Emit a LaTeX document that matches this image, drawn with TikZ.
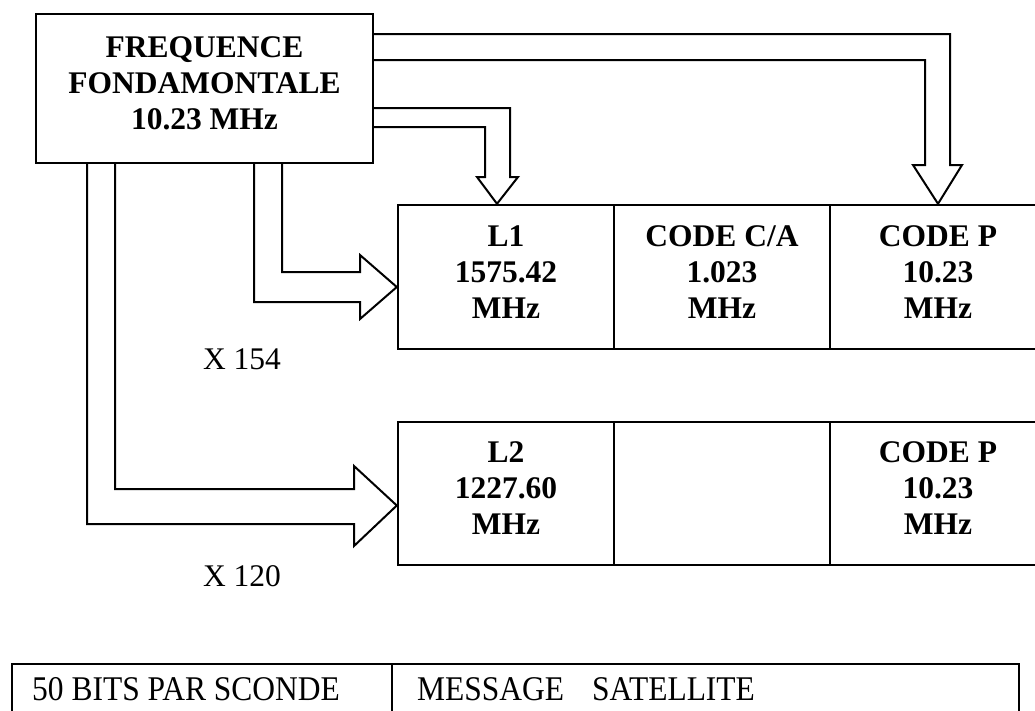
\documentclass[tikz,border=0pt]{standalone}
\usepackage{fontspec}
\usepackage{graphicx}
\setmainfont{Liberation Serif}
\newcommand\dpx[1]{\rule[-#1]{0pt}{0pt}}
\begin{document}
\begin{tikzpicture}[x=1pt,y=-1pt,
  box/.style={draw, line width=2.4pt, inner sep=0pt, align=center,
    font=\bfseries\fontsize{31.5}{36}\selectfont},
  cell/.style={box, minimum width=216pt, minimum height=144pt},
  blk/.style={draw, line width=2pt, line join=miter},
  lbl/.style={inner sep=0pt, font=\fontsize{31.5}{36}\selectfont},
  msg/.style={draw, line width=2.4pt, inner sep=0pt, minimum height=100pt}]
\useasboundingbox (0,0) rectangle (1035,710);

% source box
\node[box, minimum width=337pt, minimum height=149pt] (fq) at (204.5,88.5)
  {FREQUENCE\\FONDAMONTALE\\10.23 MHz\dpx{10pt}};

% L1 row
\node[cell] (l1) at (506,277) {L1\\1575.42\\MHz\dpx{10pt}};
\node[cell] (ca) at (722,277) {CODE C/A\\1.023\\MHz\dpx{10pt}};
\node[cell] (p1) at (938,277) {CODE P\\10.23\\MHz\dpx{10pt}};

% L2 row
\node[cell, minimum height=143pt] (l2) at (506,493.5) {L2\\1227.60\\MHz\dpx{10pt}};
\node[cell, minimum height=143pt] (e2) at (722,493.5) {};
\node[cell, minimum height=143pt] (p2) at (938,493.5) {CODE P\\10.23\\MHz\dpx{10pt}};

% multiplier labels
\node[lbl] (x154) at (242,359) {X 154};
\node[lbl] (x120) at (242,576) {X 120};

% hollow arrows
\draw[blk] (fq.east |- 0,34) -| (950,165) -- (962,165) -- (p1.north)
  -- (913,165) -- (925,165) |- (fq.east |- 0,60);
\draw[blk] (fq.east |- 0,108) -| (510,177) -- (518,177) -- ([xshift=-9pt]l1.north)
  -- (477,177) -- (485,177) |- (fq.east |- 0,127);
\draw[blk] (fq.south -| 254,0) |- (360,302) -- (360,319) -- ([yshift=-10pt]l1.west)
  -- (360,255) -- (360,272) -| (fq.south -| 282,0);
\draw[blk] (fq.south -| 87,0) |- (354,524) -- (354,546) -- ([yshift=-12pt]l2.west)
  -- (354,466) -- (354,489) -| (fq.south -| 115,0);

% message row
\node[msg, minimum width=380pt] (b1) at (202,714) {};
\node[msg, minimum width=627pt] (b2) at (705.5,714) {};
\node[lbl, anchor=base west] (t50) at (32,700) {\scalebox{1}[1.1]{50 BITS PAR SCONDE}};
\node[lbl, anchor=base west] (tmsg) at (417,700) {\scalebox{1}[1.1]{MESSAGE\hspace{28pt}SATELLITE}};
\end{tikzpicture}
\end{document}
